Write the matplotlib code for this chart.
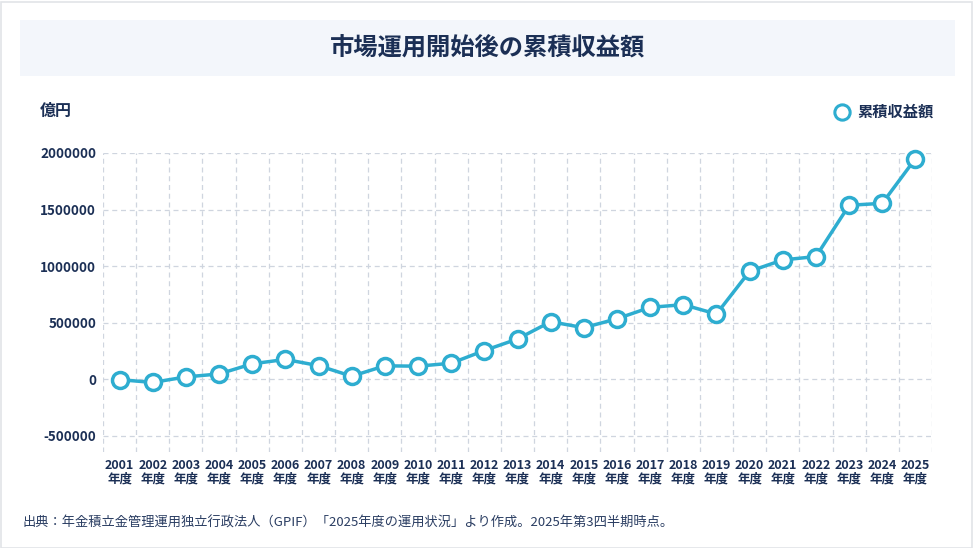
import matplotlib
matplotlib.use("Agg")
import matplotlib.pyplot as plt
from matplotlib.patches import Rectangle
from matplotlib.lines import Line2D

plt.rcParams['font.family'] = ['Noto Sans CJK JP', 'DejaVu Sans']

years = [str(y) for y in range(2001, 2026)]
values = [-5874, -30404, 18512, 44639, 134258, 173319, 118141, 24660, 116510,
          113511, 139603, 251825, 354032, 506954, 453856, 533219, 634029,
          657824, 574993, 952979, 1053904, 1083440, 1537293, 1554627, 1950000]
yticks = [-500000, 0, 500000, 1000000, 1500000, 2000000]
title = "市場運用開始後の累積収益額"
series_name = "累積収益額"
unit = "億円"
source = "出典：年金積立金管理運用独立行政法人（GPIF）「2025年度の運用状況」より作成。2025年第3四半期時点。"

NAVY = "#1b2f55"
LINE = "#2eadd0"
GRID = "#cfd5df"

W, H = 975, 548
fig = plt.figure(figsize=(W / 100, H / 100), dpi=100)
fig.patch.set_facecolor("white")

# card border
fig.add_artist(Rectangle((0.5 / W, 0.5 / H), 971 / W, 546 / H, transform=fig.transFigure,
                         facecolor="none", edgecolor="#e2e4e8", lw=1.2))
# title box
fig.add_artist(Rectangle((20 / W, 1 - 76 / H), 935 / W, 56 / H, transform=fig.transFigure,
                         facecolor="#f3f6fb", edgecolor="none"))
fig.text(487.5 / W, 1 - 49 / H, title, ha="center", va="center", fontsize=17.5,
         fontweight="bold", color=NAVY)

ax = fig.add_axes([103 / W, 1 - 452 / H, (932 - 103) / W, (452 - 153) / H])
x = list(range(len(years)))
ax.plot(x, values, color=LINE, lw=2.5, marker="o", markersize=11.5,
        markerfacecolor="white", markeredgecolor=LINE, markeredgewidth=2.5, zorder=3,
        clip_on=False)

ax.set_xlim(-0.5, len(years) - 0.5)
ax.set_ylim(-646000, 2000000)
ax.set_yticks(yticks)
ax.set_yticklabels([str(v) for v in yticks], fontsize=9.7, fontweight="bold", color=NAVY)
ax.set_xticks(x)
ax.set_xticklabels([f"{y}\n年度" for y in years], fontsize=9, fontweight="bold",
                   color=NAVY, linespacing=1.1)
ax.set_xticks([i - 0.5 for i in range(len(years) + 1)], minor=True)
ax.tick_params(axis="both", which="both", length=0)
ax.tick_params(axis="y", pad=5)
ax.tick_params(axis="x", pad=5)
ax.grid(False)
ax.grid(axis="y", which="major", color=GRID, linestyle=(0, (4, 3)), lw=0.9)
ax.grid(axis="x", which="minor", color=GRID, linestyle=(0, (4, 3)), lw=0.9)
for s in ax.spines.values():
    s.set_visible(False)
ax.set_facecolor("none")

fig.text(40 / W, 1 - 111 / H, unit, ha="left", va="center", fontsize=11.5,
         fontweight="bold", color=NAVY)

# legend
fig.add_artist(Line2D([842 / W], [1 - 112 / H], transform=fig.transFigure, marker="o",
                      markersize=11, markerfacecolor="white", markeredgecolor=LINE,
                      markeredgewidth=2.2, linestyle="none"))
fig.text(857 / W, 1 - 112 / H, series_name, ha="left", va="center", fontsize=11,
         fontweight="bold", color=NAVY)

fig.text(22 / W, 1 - 523 / H, source, ha="left", va="center", fontsize=9.5, color="#2a3d62")

fig.savefig("out.png", dpi=100, facecolor="white")
